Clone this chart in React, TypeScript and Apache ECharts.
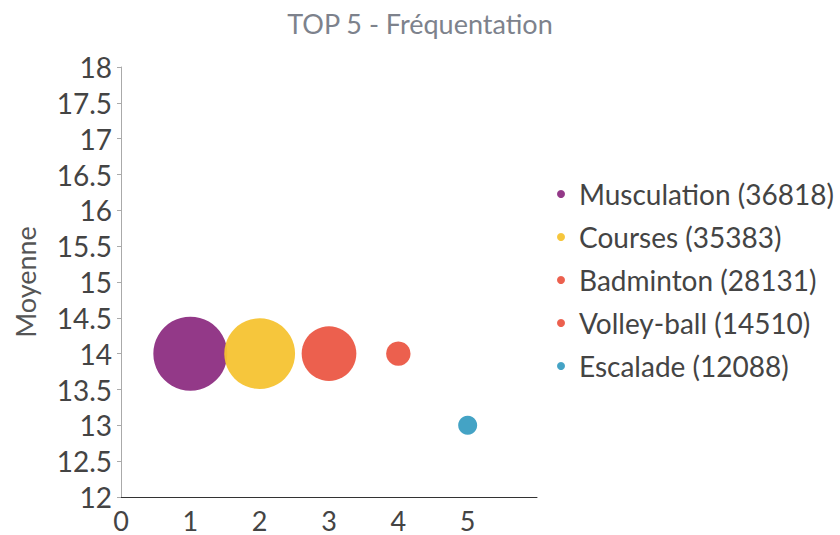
import React, { useEffect, useRef } from "react";
import * as echarts from "echarts";

const subtitle = "TOP 5 - Fréquentation";
const sports = ["Musculation", "Courses", "Badminton", "Volley-ball", "Escalade"];
const ranks = [1, 2, 3, 4, 5];
const moyennes = [14, 14, 14, 14, 13];
const frequentations = [36818, 35383, 28131, 14510, 12088];
const colors = ["#8D2E82", "#F6C332", "#EB5745", "#EB5745", "#3A9EC2"];
const yAxisName = "Moyenne";

export default function App() {
  const ref = useRef<HTMLDivElement>(null);
  useEffect(() => {
    document.body.style.margin = "0";
    if (!ref.current) return;
    const chart = echarts.init(ref.current, null, { renderer: "svg" });
    const font = "Lato, 'Noto Sans', sans-serif";
    chart.setOption({
      animation: false,
      textStyle: { fontFamily: font },
      title: {
        text: subtitle,
        left: "center",
        top: 5,
        textStyle: { fontSize: 27, fontWeight: "normal", color: "#7d828c", fontFamily: font },
      },
      grid: { left: 121, right: 303, top: 67, bottom: 38, containLabel: false },
      legend: {
        orient: "vertical",
        left: 552,
        top: 175,
        itemGap: 15,
        icon: "circle",
        itemWidth: 8,
        itemHeight: 8,
        textStyle: { fontSize: 28, color: "#444", fontFamily: font, padding: [0, 0, 0, 9] },
        data: sports.map((s, i) => `${s} (${frequentations[i]})`),
      },
      visualMap: {
        show: false,
        type: "continuous",
        dimension: 2,
        min: Math.min(...frequentations),
        max: Math.max(...frequentations),
        inRange: { symbolSize: [19, 74] },
      },
      xAxis: {
        type: "value",
        min: 0,
        max: 6,
        interval: 1,
        splitLine: { show: false },
        axisLine: { show: true, lineStyle: { color: "#333", width: 1 } },
        axisTick: { show: false },
        axisLabel: {
          fontSize: 27,
          lineHeight: 24,
          color: "#444",
          margin: 11,
          showMaxLabel: false,
          fontFamily: font,
        },
      },
      yAxis: {
        type: "value",
        min: 12,
        max: 18,
        interval: 0.5,
        name: yAxisName,
        nameLocation: "middle",
        nameGap: 82,
        nameRotate: 90,
        nameTextStyle: { fontSize: 27, color: "#555", fontFamily: font },
        splitLine: { show: false },
        axisLine: { show: true, lineStyle: { color: "#aaa", width: 1 } },
        axisTick: { show: true, length: 4, lineStyle: { color: "#aaa" } },
        axisLabel: { fontSize: 28, color: "#444", margin: 9, fontFamily: font },
      },
      series: sports.map((s, i) => ({
        name: `${s} (${frequentations[i]})`,
        type: "scatter",
        itemStyle: { color: colors[i], opacity: 0.95 },
        data: [[ranks[i], moyennes[i], frequentations[i]]],
      })),
    });
    return () => chart.dispose();
  }, []);
  return <div ref={ref} style={{ width: 840, height: 535 }} />;
}
